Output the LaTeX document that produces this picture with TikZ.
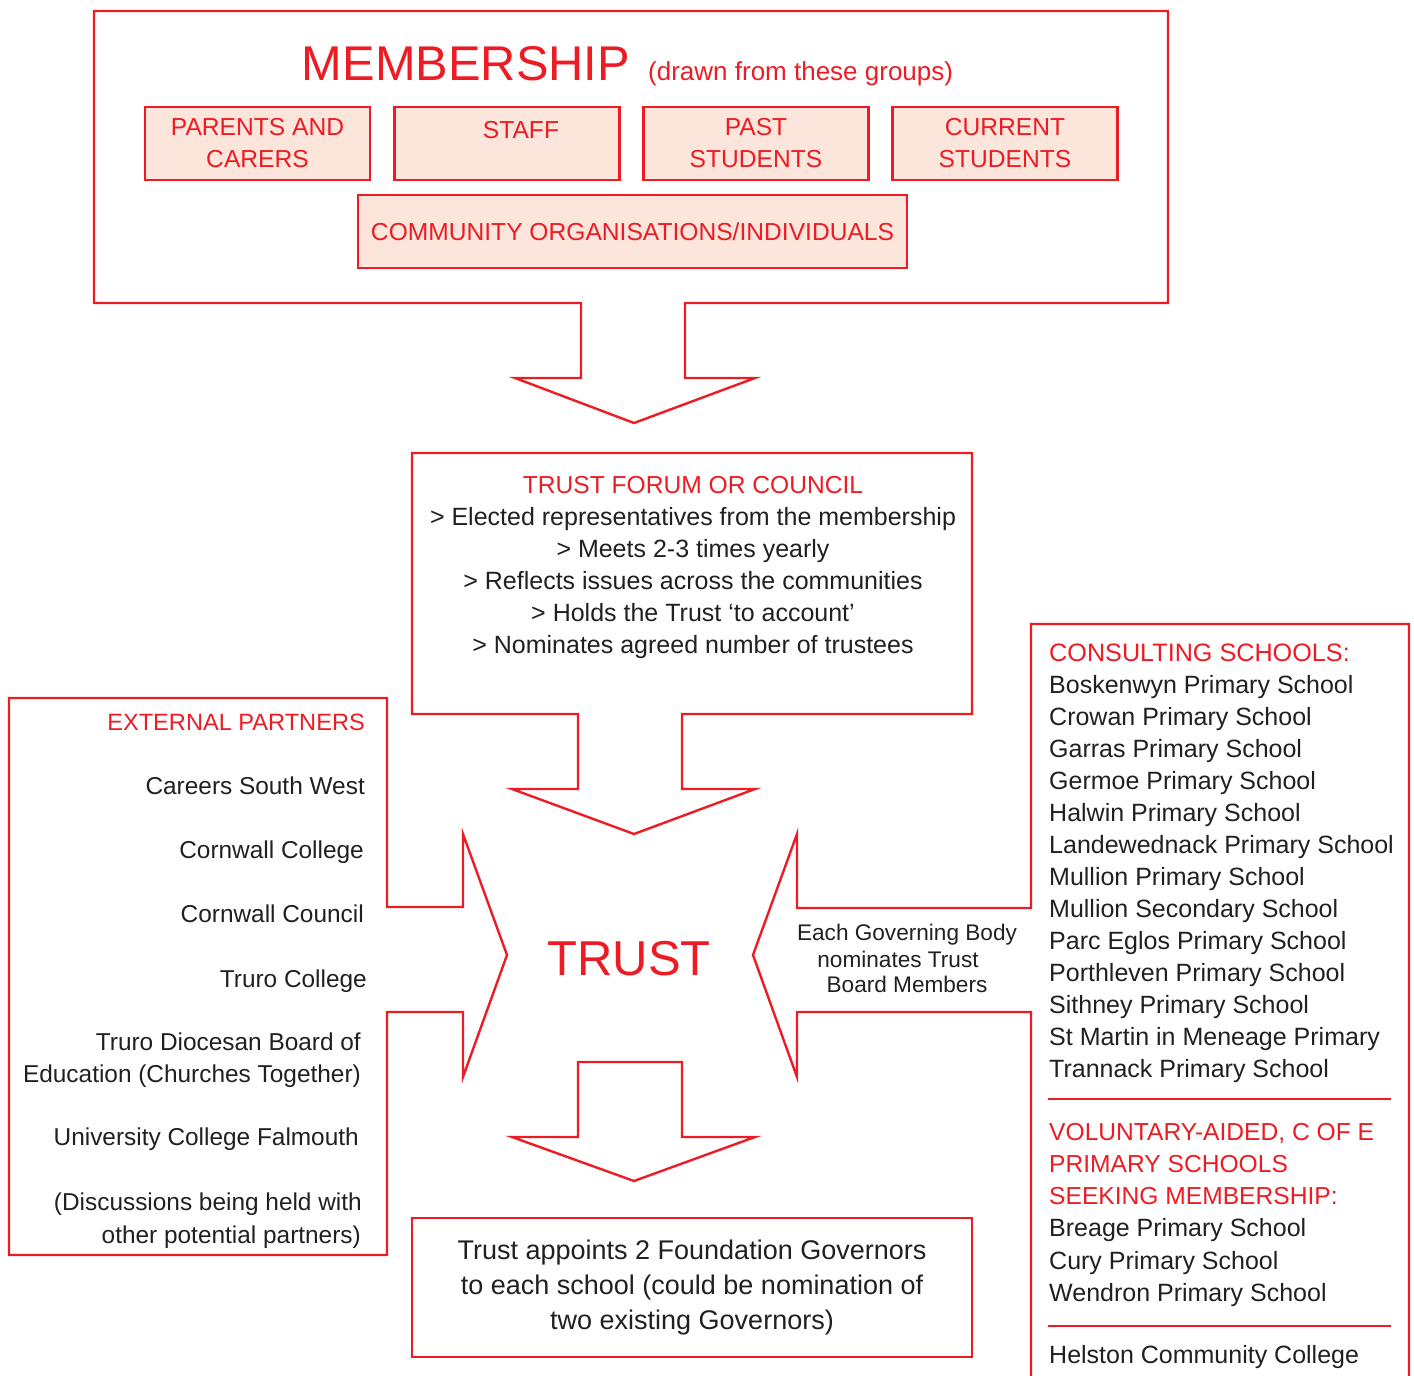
\documentclass[tikz,border=0pt]{standalone}
\usepackage{fontspec}
\setmainfont{Liberation Sans}
\usetikzlibrary{positioning}
\definecolor{ink}{RGB}{35,31,32}
\definecolor{trustred}{RGB}{237,28,36}
\definecolor{blush}{RGB}{252,230,220}
\tikzset{
  every picture/.style={color=ink, line width=1.2pt},
  frame/.style={draw=trustred, line width=1.2pt},
  group/.style={draw=trustred, fill=blush, line width=1.1pt, text=trustred, align=center, inner sep=0pt,
    minimum width=112.5pt, minimum height=36.5pt, font=\fontsize{12.3}{16}\selectfont},
  head/.style={text=trustred, inner sep=0pt, font=\fontsize{12.3}{16}\selectfont},
  item/.style={text=ink, inner sep=0pt, font=\fontsize{12.5}{16}\selectfont},
  partner/.style={item, font=\fontsize{12.2}{16}\selectfont, anchor=base east},
  note/.style={text=ink, inner sep=0pt, font=\fontsize{11.3}{13}\selectfont},
  big/.style={text=trustred, inner sep=0pt, font=\fontsize{24.5}{28}\selectfont},
  rule/.style={draw=trustred, line width=1.2pt},
}

\begin{document}
\begin{tikzpicture}[x=0.5pt, y=-0.5pt]
  \useasboundingbox (0,0) rectangle (1414,1376);
  % membership, with its arrow down
  \draw[frame] (581,303) -- (94,303) -- (94,11) -- (1168,11) -- (1168,303) -- (685,303) -- (685,378)
    -- (755,378) -- (634,423) -- (515,378) -- (581,378) -- cycle;
  \node[big, font=\fontsize{24.4}{28}\selectfont, anchor=base] (member) at (466,80) {MEMBERSHIP};
  \node[head, font=\fontsize{13}{15}\selectfont, anchor=base west] (drawn) at (647,80) {(drawn from these groups)};
  \node[group] (parents) at (257.5,143.5) {PARENTS AND\\CARERS};
  \node[group] (staff) at (507,143.5) {};
  \node[head, anchor=base] (stafftext) at (521,138) {STAFF};
  \node[group] (past) at (756,143.5) {PAST\\STUDENTS};
  \node[group] (current) at (1005,143.5) {CURRENT\\STUDENTS};
  \node[group, minimum width=274.5pt] (community) at (632.5,231.5) {COMMUNITY ORGANISATIONS/INDIVIDUALS};

  % trust forum
  \draw[frame] (578,714) -- (412,714) -- (412,453) -- (972,453) -- (972,714) -- (682,714) -- (682,789)
    -- (755,789) -- (634,834) -- (512,789) -- (578,789) -- cycle;
  \node[head, anchor=base] (forumhead) at (693,493) {TRUST FORUM OR COUNCIL};
  \foreach \line [count=\i] in {{> Elected representatives from the membership}, {> Meets 2-3 times yearly},
      {> Reflects issues across the communities}, {> Holds the Trust `to account'},
      {> Nominates agreed number of trustees}}
    \node[item, anchor=base] (forum\i) at (693,{493+32*\i}) {\line};

  \node[big, anchor=base] (trust) at (629,975) {TRUST};

  % external partners
  \draw[frame] (387,1255) -- (9,1255) -- (9,698) -- (387,698) -- (387,907) -- (463,907) -- (463,834)
    -- (507,955) -- (463,1077) -- (463,1012) -- (387,1012) -- cycle;
  \node[head, font=\fontsize{11.8}{16}\selectfont, anchor=base east] (exthead) at (366,730) {EXTERNAL PARTNERS};
  \node[partner] (ext1) at (366,794) {Careers South West};
  \node[partner] (ext2) at (365,858) {Cornwall College};
  \node[partner] (ext3) at (365,922) {Cornwall Council};
  \node[partner] (ext4) at (368,987) {Truro College};
  \node[partner] (ext5) at (362,1050) {Truro Diocesan Board of};
  \node[partner] (ext6) at (362,1082) {Education (Churches Together)};
  \node[partner] (ext7) at (360,1145) {University College Falmouth};
  \node[partner] (ext8) at (363,1210) {(Discussions being held with};
  \node[partner] (ext9) at (362,1243) {other potential partners)};

  % consulting schools
  \draw[frame] (1031,1380) -- (1031,1012) -- (797,1012) -- (797,1077) -- (753,955) -- (797,834) -- (797,908)
    -- (1031,908) -- (1031,624) -- (1409,624) -- (1409,1380);
  \node[note, anchor=base] (nom1) at (907,940) {Each Governing Body};
  \node[note, anchor=base] (nom2) at (898,967) {nominates Trust};
  \node[note, anchor=base] (nom3) at (907,992) {Board Members};
  \node[head, font=\fontsize{12.6}{16}\selectfont, anchor=base west] (consulthead) at (1048,661) {CONSULTING SCHOOLS:};
  \foreach \school [count=\i] in {Boskenwyn, Crowan, Garras, Germoe, Halwin, Landewednack, Mullion}
    \node[item, anchor=base west] (cs\i) at (1048,{661+32*\i}) {\school\ Primary School};
  \node[item, anchor=base west] (cs8) at (1048,917) {Mullion Secondary School};
  \foreach \school [count=\i from 9] in {Parc Eglos, Porthleven, Sithney}
    \node[item, anchor=base west] (cs\i) at (1048,{661+32*\i}) {\school\ Primary School};
  \node[item, anchor=base west] (cs12) at (1048,1045) {St Martin in Meneage Primary};
  \node[item, anchor=base west] (cs13) at (1048,1077) {Trannack Primary School};
  \draw[rule] (1048,1099) -- (1391,1099);
  \node[head, anchor=base west] (vahead1) at (1048,1140) {VOLUNTARY-AIDED, C OF E};
  \node[head, anchor=base west] (vahead2) at (1048,1172) {PRIMARY SCHOOLS};
  \node[head, anchor=base west] (vahead3) at (1048,1204) {SEEKING MEMBERSHIP:};
  \node[item, anchor=base west] (va1) at (1048,1236) {Breage Primary School};
  \node[item, anchor=base west] (va2) at (1048,1269) {Cury Primary School};
  \node[item, anchor=base west] (va3) at (1048,1301) {Wendron Primary School};
  \draw[rule] (1048,1326) -- (1391,1326);
  \node[item, anchor=base west] (helston) at (1048,1363) {Helston Community College};

  % appointing governors
  \draw[frame] (578,1062) -- (682,1062) -- (682,1137) -- (755,1137) -- (634,1181) -- (512,1137)
    -- (578,1137) -- cycle;
  \node[frame, minimum width=280pt, minimum height=69.5pt, inner sep=0pt, align=center, text=ink,
    font=\fontsize{13.5}{17.5}\selectfont] (appoint) at (692,1287.5)
    {Trust appoints 2 Foundation Governors\\to each school (could be nomination of\\two existing Governors)};
\end{tikzpicture}
\end{document}
